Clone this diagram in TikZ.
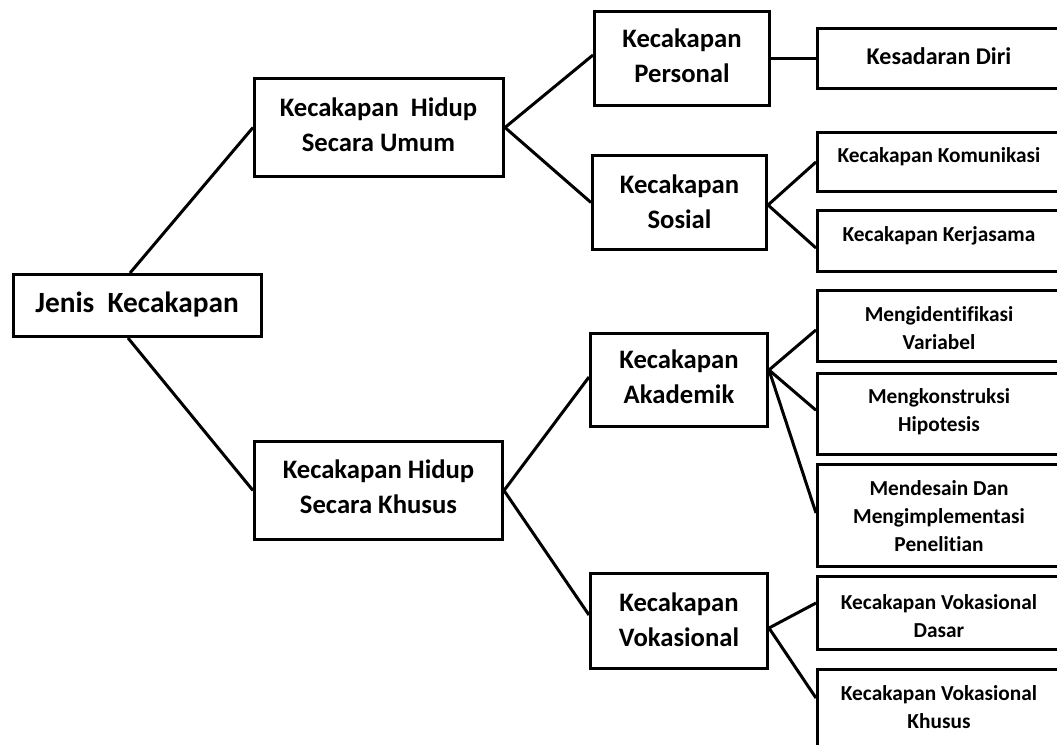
\documentclass[tikz,border=0pt]{standalone}
\usepackage{fontspec}
\setmainfont{Carlito}[Ligatures=NoCommon]
\usetikzlibrary{fit,calc}
\tikzset{
  box/.style={draw=black, line width=2.25pt, inner sep=0pt, fill=none},
  link/.style={draw=black, line width=2.25pt},
  rootxt/.style={font=\bfseries\fontsize{22}{26.5}\selectfont, align=center, inner sep=0pt},
  bigtxt/.style={font=\bfseries\fontsize{20}{26.5}\selectfont, align=center, inner sep=0pt},
  smalltxt/.style={font=\bfseries\fontsize{16}{21}\selectfont, align=center, inner sep=0pt},
  midtxt/.style={font=\bfseries\fontsize{18}{21}\selectfont, align=center, inner sep=0pt}
}
\begin{document}
\begin{tikzpicture}[x=0.75pt,y=-0.75pt]
\path[use as bounding box, fill=white] (0,0) rectangle (1057,744);
\clip (0,0) rectangle (1057,744);
% level 0
\node[box, fit={(13.5,274.5) (261.5,336.5)}] (jenis) {};
\node[rootxt] (jenisT) at (137,305) {Jenis\ \ Kecakapan};
% level 1
\node[box, fit={(254.5,78.5) (503.5,176.5)}] (umum) {};
\node[bigtxt] (umumT) at (378.5,125) {Kecakapan\ \ Hidup\\Secara Umum};
\node[box, fit={(254.5,441.5) (502.5,539.5)}] (khusus) {};
\node[bigtxt] (khususT) at (378.5,487) {Kecakapan Hidup\\Secara Khusus};
% level 2
\node[box, fit={(594.5,11.5) (769.5,105.5)}] (personal) {};
\node[bigtxt] (personalT) at (682,56) {Kecakapan\\Personal};
\node[box, fit={(592.5,155.5) (766.5,249.5)}] (sosial) {};
\node[bigtxt] (sosialT) at (679.5,201.5) {Kecakapan\\Sosial};
\node[box, fit={(590.5,333.5) (767.5,426.5)}] (akademik) {};
\node[bigtxt] (akademikT) at (679,377) {Kecakapan\\Akademik};
\node[box, fit={(590.5,573.5) (767.5,668.5)}] (vokasional) {};
\node[bigtxt] (vokasionalT) at (679,619.5) {Kecakapan\\Vokasional};
% level 3
\node[box, fit={(817.5,28.5) (1062,88.5)}] (kesadaran) {};
\node[midtxt] (kesadaranT) at (939,56) {Kesadaran Diri};
\node[box, fit={(817.5,132.5) (1062,191.5)}] (komunikasi) {};
\node[smalltxt] (komunikasiT) at (939,157) {Kecakapan Komunikasi};
\node[box, fit={(817.5,210.5) (1062,271.5)}] (kerjasama) {};
\node[smalltxt] (kerjasamaT) at (939,236) {Kecakapan Kerjasama};
\node[box, fit={(817.5,290.8) (1062,361.8)}] (identifikasi) {};
\node[smalltxt] (identifikasiT) at (939,328.5) {Mengidentifikasi\\Variabel};
\node[box, fit={(817.5,373.5) (1062,454)}] (konstruksi) {};
\node[smalltxt] (konstruksiT) at (939,412) {Mengkonstruksi\\Hipotesis};
\node[box, fit={(817.5,464) (1062,566)}] (desain) {};
\node[smalltxt] (desainT) at (939,516.5) {Mendesain Dan\\Mengimplementasi\\Penelitian};
\node[box, fit={(817.5,576) (1062,649)}] (vdasar) {};
\node[smalltxt] (vdasarT) at (939,616.5) {Kecakapan Vokasional\\Dasar};
\node[box, fit={(817.5,669.5) (1062,760)}] (vkhusus) {};
\node[smalltxt] (vkhususT) at (939,707.5) {Kecakapan Vokasional\\Khusus};
% connectors
\draw[link] ($(jenis.north)+(-7.5,0)$) -- (umum.west);
\draw[link] ($(jenis.south)+(-9.5,0)$) -- (khusus.west);
\draw[link] (umum.east) -- ($(personal.west)+(0,-3.5)$);
\draw[link] (umum.east) -- (sosial.west);
\draw[link] (personal.east) -- (personal.east -| kesadaran.west);
\draw[link] ($(sosial.east)+(0,2.5)$) -- (komunikasi.west);
\draw[link] ($(sosial.east)+(0,2.5)$) -- ($(kerjasama.west)+(0,7)$);
\draw[link] (khusus.east) -- ($(akademik.west)+(0,-3)$);
\draw[link] (khusus.east) -- ($(vokasional.west)+(0,-6)$);
\draw[link] ($(akademik.east)+(0,-10)$) -- ($(identifikasi.west)+(0,3.6)$);
\draw[link] ($(akademik.east)+(0,-10)$) -- ($(konstruksi.west)+(0,-3.5)$);
\draw[link] ($(akademik.east)+(0,-10)$) -- ($(desain.west)+(0,-2)$);
\draw[link] ($(vokasional.east)+(0,7)$) -- ($(vdasar.west)+(0,-9.5)$);
\draw[link] ($(vokasional.east)+(0,7)$) -- ($(vkhusus.west)+(0,-16.75)$);
\end{tikzpicture}
\end{document}
